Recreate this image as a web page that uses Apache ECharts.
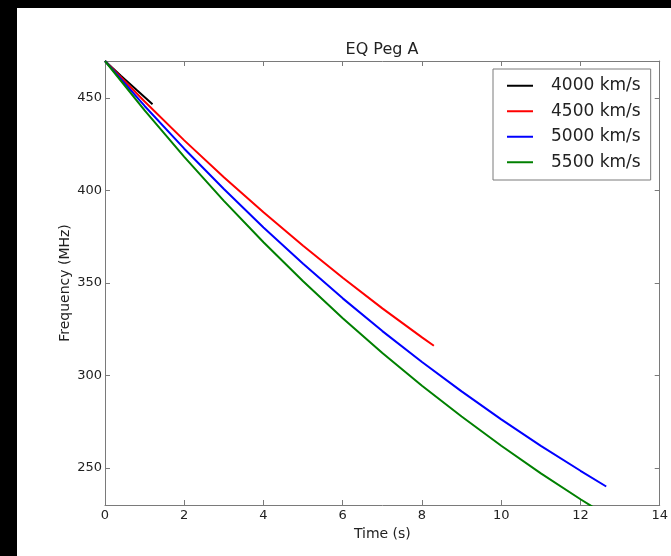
<!DOCTYPE html>
<html>
<head>
<meta charset="utf-8">
<script src="https://cdn.jsdelivr.net/npm/echarts@6/dist/echarts.min.js"></script>
<style>
html,body{margin:0;padding:0;background:#000;width:671px;height:556px;overflow:hidden;}
#chart{position:absolute;left:17px;top:8px;width:654px;height:548px;background:#fff;}
</style>
</head>
<body>
<div id="chart"></div>
<script>
const seriesNames = ['4000 km/s', '4500 km/s', '5000 km/s', '5500 km/s'];
const seriesColors = ['#000000', '#ff0000', '#0000ff', '#008000'];

const time4000 = [0, 0.4, 0.8, 1.2];
const freq4000 = [470, 462.1, 454.3, 446.6];

const time4500 = [0, 1, 2, 3, 4, 5, 6, 7, 8, 8.3];
const freq4500 = [470, 448.1, 427.1, 407.2, 388.2, 370.1, 352.8, 336.3, 320.6, 316.1];

const time5000 = [0, 1, 2, 3, 4, 5, 6, 7, 8, 9, 10, 11, 12, 12.65];
const freq5000 = [470, 445.7, 422.6, 400.8, 380.0, 360.4, 341.7, 324.0, 307.3, 291.4, 276.3, 262.0, 248.5, 240.0];

const time5500 = [0, 1, 2, 3, 4, 5, 6, 7, 8, 9, 10, 11, 12, 12.3];
const freq5500 = [470, 443.3, 418.2, 394.4, 372.0, 350.9, 331.0, 312.2, 294.5, 277.8, 262.0, 247.1, 233.1, 229.1];

const yTicks = [250, 300, 350, 400, 450];

const times = [time4000, time4500, time5000, time5500];
const freqs = [freq4000, freq4500, freq5000, freq5500];

const FONT = 'DejaVu Sans';
const frameColor = '#7a7a7a';

const chart = echarts.init(document.getElementById('chart'), null, {renderer: 'canvas'});

const series = seriesNames.map((name, i) => ({
  name: name,
  type: 'line',
  xAxisIndex: 0,
  yAxisIndex: 0,
  data: times[i].map((t, j) => [t, freqs[i][j]]),
  showSymbol: false,
  symbol: 'none',
  clip: true,
  lineStyle: {color: seriesColors[i], width: 2},
  itemStyle: {color: seriesColors[i]}
}));

const axisCommon = {
  axisLine: {show: true, onZero: false, lineStyle: {color: frameColor, width: 1}},
  axisTick: {show: true, inside: true, length: 5, lineStyle: {color: frameColor, width: 1}},
  splitLine: {show: false}
};

chart.setOption({
  animation: false,
  backgroundColor: '#ffffff',
  title: {
    text: 'EQ Peg A',
    left: 365,
    top: 34,
    textAlign: 'center',
    padding: 0,
    textStyle: {fontFamily: FONT, fontSize: 16, fontWeight: 'normal', color: '#222'}
  },
  legend: {
    orient: 'vertical',
    left: 476,
    top: 61,
    padding: [4, 10, 5, 14],
    backgroundColor: '#ffffff',
    borderColor: frameColor,
    borderWidth: 1,
    borderRadius: 0,
    itemWidth: 26,
    itemHeight: 2,
    itemGap: 0,
    icon: 'rect',
    data: seriesNames.map((n, i) => ({name: n, icon: 'rect', itemStyle: {color: seriesColors[i]}})),
    textStyle: {fontFamily: FONT, fontSize: 17, color: '#222', lineHeight: 25.5, padding: [0, 0, 0, 13]}
  },
  grid: {left: 88, top: 53, right: 11, bottom: 51, containLabel: false},
  xAxis: [
    Object.assign({}, axisCommon, {
      type: 'value', position: 'bottom', min: 0, max: 14, interval: 2,
      name: 'Time (s)', nameLocation: 'middle', nameGap: 22, nameMoveOverlap: false,
      nameTextStyle: {fontFamily: FONT, fontSize: 14, color: '#222'},
      axisLabel: {show: true, margin: 4, fontFamily: FONT, fontSize: 13, color: '#222'}
    }),
    Object.assign({}, axisCommon, {
      type: 'value', position: 'top', min: 0, max: 14, interval: 2,
      axisLabel: {show: false}
    })
  ],
  yAxis: [
    Object.assign({}, axisCommon, {
      type: 'value', position: 'left', min: 230, max: 470,
      name: 'Frequency (MHz)', nameLocation: 'middle', nameGap: 33, nameRotate: 90, nameMoveOverlap: false,
      nameTextStyle: {fontFamily: FONT, fontSize: 14, color: '#222'},
      axisTick: {show: true, inside: true, length: 5, customValues: yTicks, lineStyle: {color: frameColor, width: 1}},
      axisLabel: {show: true, margin: 3, customValues: yTicks, fontFamily: FONT, fontSize: 13, color: '#222'}
    }),
    Object.assign({}, axisCommon, {
      type: 'value', position: 'right', min: 230, max: 470,
      axisTick: {show: true, inside: true, length: 5, customValues: yTicks, lineStyle: {color: frameColor, width: 1}},
      axisLabel: {show: false, customValues: yTicks}
    })
  ],
  series: series
});
</script>
</body>
</html>
